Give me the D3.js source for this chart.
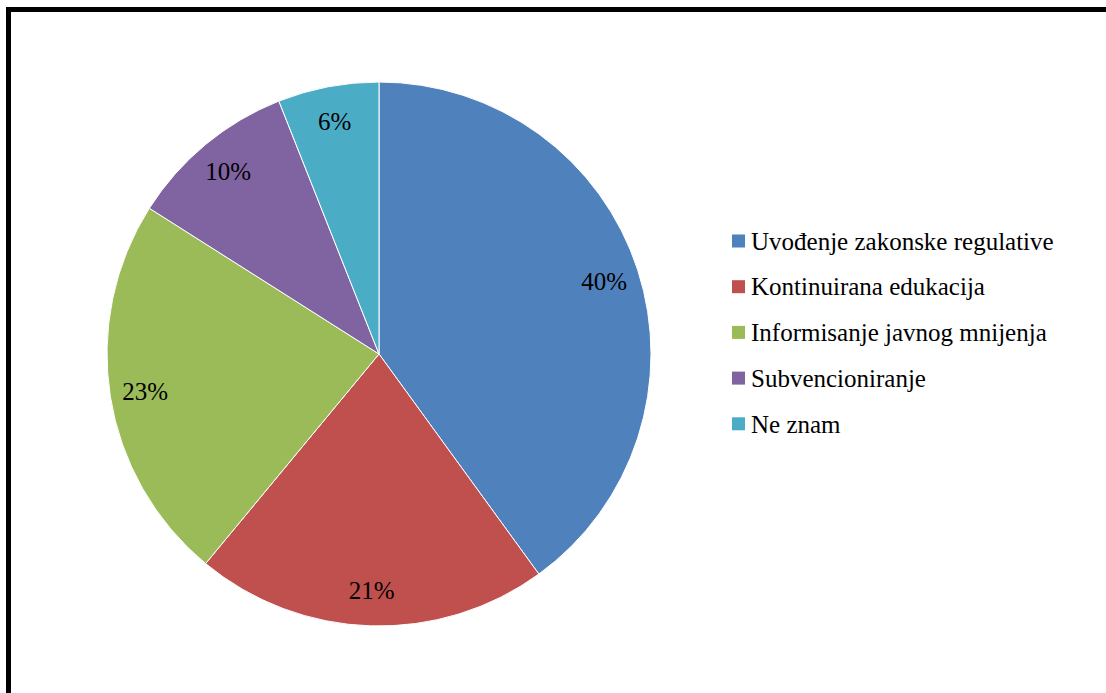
<!DOCTYPE html>
<html>
<head>
<meta charset="utf-8">
<script src="https://cdn.jsdelivr.net/npm/d3@7"></script>
<style>
  html, body { margin: 0; padding: 0; background: #fff; }
  svg { display: block; }
</style>
</head>
<body>
<svg id="chart" width="1106" height="693"></svg>
<script>
// Survey answers and their shares (%)
const categories = [
  "Uvođenje zakonske regulative",
  "Kontinuirana edukacija",
  "Informisanje javnog mnijenja",
  "Subvencioniranje",
  "Ne znam"
];
const values = [40, 21, 23, 10, 6];
const colors = ["#4F81BD", "#C0504D", "#9BBB59", "#8064A2", "#4BACC6"];

const W = 1106, H = 693;
const svg = d3.select("#chart");
const font = '"Liberation Serif"';

// Chart frame (continues past the right and bottom edges)
svg.append("rect")
  .attr("x", 8.5).attr("y", 9.5)
  .attr("width", W + 20).attr("height", H + 20)
  .attr("fill", "none").attr("stroke", "#000").attr("stroke-width", 5);

const cx = 379, cy = 354, R = 272;
const data = categories.map((c, i) => ({ name: c, value: values[i], color: colors[i] }));

const pie = d3.pie().value(d => d.value).sort(null);
const arc = d3.arc().innerRadius(0).outerRadius(R);
const labelArc = d3.arc().innerRadius(R * 0.87).outerRadius(R * 0.87);

const g = svg.append("g").attr("transform", `translate(${cx},${cy})`);
const arcs = pie(data);

g.selectAll("path.slice")
  .data(arcs)
  .join("path")
  .attr("class", "slice")
  .attr("d", arc)
  .attr("fill", d => d.data.color)
  .attr("stroke", "#fff")
  .attr("stroke-width", 1);

g.selectAll("text.pct")
  .data(arcs)
  .join("text")
  .attr("class", "pct")
  .attr("transform", d => `translate(${labelArc.centroid(d)})`)
  .attr("text-anchor", "middle")
  .attr("dy", "0.35em")
  .style("font-family", font)
  .style("font-size", "25px")
  .attr("fill", "#000")
  .text(d => d.data.value + "%");

// Legend
const legend = svg.append("g").attr("transform", "translate(732,241)");
const rowH = 45.7;
const items = legend.selectAll("g.item")
  .data(data)
  .join("g")
  .attr("class", "item")
  .attr("transform", (d, i) => `translate(0,${i * rowH})`);

items.append("rect")
  .attr("x", 0).attr("y", -6.5)
  .attr("width", 13).attr("height", 13)
  .attr("fill", d => d.color);

items.append("text")
  .attr("x", 19).attr("y", 0)
  .attr("dy", "0.35em")
  .style("font-family", font)
  .style("font-size", "25px")
  .attr("fill", "#000")
  .text(d => d.name);
</script>
</body>
</html>
